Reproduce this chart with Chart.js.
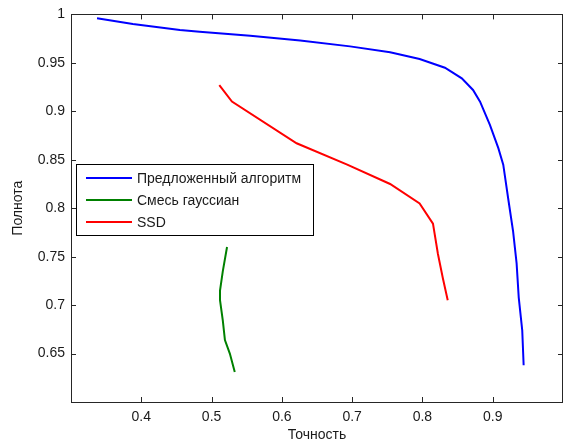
<!DOCTYPE html>
<html>
<head>
<meta charset="utf-8">
<script src="https://cdn.jsdelivr.net/npm/chart.js@4"></script>
<style>
  body { margin: 0; background: #fff; }
  canvas { display: block; }
</style>
</head>
<body>
<canvas id="grafico" width="565" height="442"></canvas>
<script>
// Данные (точность, полнота)
const seriesNames = ["Предложенный алгоритм", "Смесь гауссиан", "SSD"];
const seriesColors = ["#0000ff", "#008000", "#ff0000"];

const proposedX = [0.337, 0.388, 0.455, 0.483, 0.555, 0.626, 0.697, 0.754, 0.796, 0.832, 0.856, 0.872, 0.882, 0.896, 0.908, 0.915, 0.922, 0.929, 0.934, 0.937, 0.942, 0.944];
const proposedY = [0.996, 0.990, 0.984, 0.982, 0.978, 0.973, 0.967, 0.961, 0.954, 0.945, 0.934, 0.922, 0.910, 0.886, 0.862, 0.845, 0.810, 0.776, 0.743, 0.708, 0.674, 0.638];

const gaussX = [0.522, 0.516, 0.512, 0.512, 0.516, 0.519, 0.526, 0.533];
const gaussY = [0.760, 0.735, 0.715, 0.705, 0.684, 0.664, 0.650, 0.631];

const ssdX = [0.511, 0.529, 0.621, 0.693, 0.754, 0.796, 0.815, 0.822, 0.829, 0.836];
const ssdY = [0.927, 0.910, 0.867, 0.845, 0.825, 0.805, 0.784, 0.753, 0.728, 0.705];

const xTicks = [0.4, 0.5, 0.6, 0.7, 0.8, 0.9];
const yTicks = [0.65, 0.7, 0.75, 0.8, 0.85, 0.9, 0.95, 1];

function pontos(xs, ys) {
    return xs.map((x, i) => ({ x: x, y: ys[i] }));
}

const FONT = "'Liberation Sans', Arial, sans-serif";
const TEXT = "#1a1a1a";

// рамка, внутренние засечки и легенда как в MATLAB
const matlabPlugin = {
    id: "matlab",
    afterDraw(chart) {
        const ctx = chart.ctx;
        const a = chart.chartArea;
        const sx = chart.scales.x, sy = chart.scales.y;
        ctx.save();
        ctx.strokeStyle = "#262626";
        ctx.lineWidth = 1;
        ctx.beginPath();
        xTicks.forEach(v => {
            const px = Math.round(sx.getPixelForValue(v)) + 0.5;
            ctx.moveTo(px, a.bottom); ctx.lineTo(px, a.bottom - 5);
            ctx.moveTo(px, a.top); ctx.lineTo(px, a.top + 5);
        });
        yTicks.forEach(v => {
            const py = Math.round(sy.getPixelForValue(v)) + 0.5;
            ctx.moveTo(a.left, py); ctx.lineTo(a.left + 5, py);
            ctx.moveTo(a.right, py); ctx.lineTo(a.right - 5, py);
        });
        ctx.stroke();
        ctx.strokeRect(Math.round(a.left) + 0.5, Math.round(a.top) + 0.5,
            Math.round(a.right - a.left) - 1, Math.round(a.bottom - a.top));

        // легенда
        const lx = 76.5, ly = 164.5, lw = 237, lh = 71;
        ctx.fillStyle = "#fff";
        ctx.fillRect(lx, ly, lw, lh);
        ctx.strokeStyle = "#000";
        ctx.strokeRect(lx, ly, lw, lh);
        ctx.font = "14px " + FONT;
        ctx.textBaseline = "middle";
        chart.data.datasets.forEach((ds, i) => {
            const y = 178 + i * 22;
            ctx.strokeStyle = ds.borderColor;
            ctx.lineWidth = 2;
            ctx.beginPath();
            ctx.moveTo(86, y); ctx.lineTo(132, y);
            ctx.stroke();
            ctx.fillStyle = TEXT;
            ctx.fillText(ds.label, 137, y + 1);
        });
        ctx.restore();
    }
};

new Chart(document.getElementById("grafico").getContext("2d"), {
    type: "scatter",
    data: {
        datasets: [
            { label: seriesNames[0], data: pontos(proposedX, proposedY) },
            { label: seriesNames[1], data: pontos(gaussX, gaussY) },
            { label: seriesNames[2], data: pontos(ssdX, ssdY) }
        ].map((d, i) => Object.assign(d, {
            showLine: true,
            borderColor: seriesColors[i],
            backgroundColor: seriesColors[i],
            borderWidth: 2,
            pointRadius: 0,
            tension: 0
        }))
    },
    options: {
        responsive: false,
        animation: false,
        layout: { padding: { top: 12, right: 2, left: 0, bottom: 0 } },
        plugins: { legend: { display: false }, tooltip: { enabled: false } },
        scales: {
            x: {
                type: "linear", min: 0.3, max: 1.0,
                grid: { display: false, drawTicks: false },
                border: { display: false },
                afterBuildTicks: s => { s.ticks = xTicks.map(v => ({ value: v })); },
                afterFit: s => { s.height = 40; },
                ticks: {
                    padding: 7, color: TEXT,
                    font: { family: FONT, size: 14 },
                    callback: v => String(+v.toFixed(2))
                },
                title: {
                    display: true, text: "Точность", color: TEXT,
                    font: { family: FONT, size: 14, lineHeight: 1 }, padding: { top: 0, bottom: 0 }
                }
            },
            y: {
                type: "linear", min: 0.6, max: 1.0,
                grid: { display: false, drawTicks: false },
                border: { display: false },
                afterBuildTicks: s => { s.ticks = yTicks.map(v => ({ value: v })); },
                afterFit: s => { s.width = 71; },
                ticks: {
                    padding: 6, color: TEXT,
                    font: { family: FONT, size: 14 },
                    callback: v => String(+v.toFixed(2))
                },
                title: {
                    display: true, text: "Полнота", color: TEXT,
                    font: { family: FONT, size: 14, lineHeight: 1 }, padding: { top: 11, bottom: 0 }
                }
            }
        }
    },
    plugins: [matlabPlugin]
});
</script>
</body>
</html>
